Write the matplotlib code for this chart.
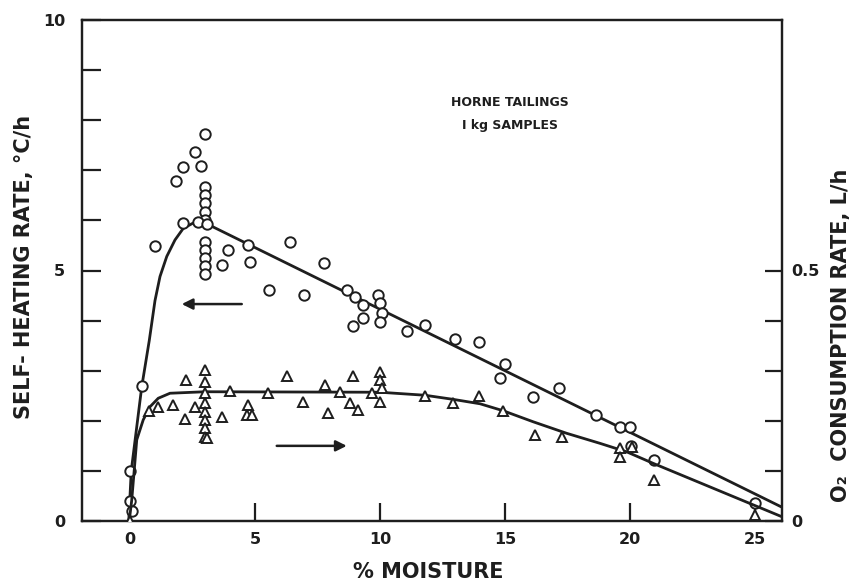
import matplotlib
matplotlib.use("Agg")
import matplotlib.pyplot as plt

# ---------------- data ----------------
# Self-heating rate (°C/h), open circles, left axis
heat_x = [0.1, 0.0, 0.0, 0.47, 1.0, 1.83, 2.13, 2.6, 2.83, 3.0,
          3.0, 3.0, 3.0, 3.0, 3.0, 2.13, 2.73, 3.1,
          3.0, 3.0, 3.0, 3.0, 3.0, 3.93, 3.67, 4.73, 4.8,
          5.56, 6.4, 6.97, 7.77, 8.67, 9.0, 9.33, 9.33, 8.93,
          9.93, 10.0, 10.07, 10.0, 11.1, 11.8, 13.0, 13.96,
          15.0, 14.8, 16.13, 17.17, 18.64, 19.6, 20.0, 20.05, 20.96, 25.0]
heat_y = [0.2, 0.4, 1.0, 2.69, 5.49, 6.79, 7.07, 7.36, 7.09, 7.72,
          6.67, 6.51, 6.34, 6.17, 6.01, 5.94, 5.97, 5.92,
          5.57, 5.41, 5.24, 5.08, 4.94, 5.41, 5.11, 5.50, 5.16,
          4.62, 5.56, 4.51, 5.14, 4.61, 4.48, 4.31, 4.05, 3.89,
          4.51, 4.35, 4.15, 3.98, 3.80, 3.91, 3.63, 3.58,
          3.13, 2.85, 2.48, 2.65, 2.12, 1.88, 1.88, 1.50, 1.22, 0.35]

# O2 consumption rate (L/h), open triangles, right axis
o2_x = [0.0, 0.77, 1.13, 1.73, 2.2, 2.24, 2.6,
        3.0, 3.0, 3.0, 3.0, 3.0, 3.0, 3.0, 3.0, 3.1,
        3.67, 4.0, 4.73, 4.67, 4.87, 5.53, 6.27, 6.93, 7.8, 7.93,
        8.4, 8.93, 8.8, 9.13, 9.67, 10.0, 10.0, 10.07, 10.0,
        11.8, 12.93, 13.96, 14.93, 16.2, 17.27, 19.6, 19.6, 20.07, 20.96, 25.0]
o2_y = [0.0, 0.220, 0.228, 0.232, 0.203, 0.281, 0.228,
        0.301, 0.278, 0.255, 0.236, 0.218, 0.202, 0.186, 0.168, 0.165,
        0.208, 0.260, 0.232, 0.212, 0.212, 0.255, 0.289, 0.238, 0.271, 0.216,
        0.258, 0.289, 0.235, 0.222, 0.255, 0.298, 0.281, 0.265, 0.238,
        0.250, 0.236, 0.250, 0.220, 0.172, 0.168, 0.145, 0.128, 0.148, 0.082, 0.012]

# fitted curves
heat_fit_x = [-0.05, 0.05, 0.47, 0.77, 1.0, 1.2, 1.47, 1.8, 2.13, 2.5, 2.85, 3.2, 26.1]
heat_fit_y = [0.0, 1.0, 2.68, 3.6, 4.4, 4.88, 5.28, 5.61, 5.84, 5.94, 5.96, 5.9, 0.27]
o2_fit_x = [-0.03, 0.07, 0.27, 0.53, 0.8, 1.13, 1.6, 3.0, 10.0, 11.8, 12.9, 14.0,
            14.93, 16.13, 17.47, 18.8, 19.87, 20.93, 26.1]
o2_fit_y = [0.0, 0.042, 0.162, 0.202, 0.228, 0.245, 0.255, 0.258, 0.257, 0.251, 0.243, 0.234,
            0.220, 0.198, 0.175, 0.155, 0.138, 0.115, 0.008]

x_ticks = [0, 5, 10, 15, 20, 25]
left_ticks = list(range(0, 11))
left_labels = ["0", "", "", "", "", "5", "", "", "", "", "10"]
right_ticks = [0, 0.1, 0.2, 0.3, 0.4, 0.5]
right_labels = ["0", "", "", "", "", "0.5"]

note_lines = ["HORNE TAILINGS", "I kg SAMPLES"]
heat_arrow = ((4.47, 4.33), (2.07, 4.33))   # tail, head (left-axis units)
o2_arrow = ((5.87, 0.15), (8.67, 0.15))     # tail, head (right-axis units)

# ---------------- drawing ----------------
plt.rcParams['font.family'] = ['DejaVu Sans']
ink = '#1e1e1e'

fig = plt.figure(figsize=(8.53, 5.84), dpi=100)
ax = fig.add_axes([82/853, 1 - 521/584, 700/853, 501/584])
ax2 = ax.twinx()

ax.set_xlim(-1.92, 26.08)
ax.set_ylim(0, 10)
ax2.set_ylim(0, 1)

ax.plot(heat_fit_x, heat_fit_y, color=ink, lw=2.0, zorder=2, solid_capstyle='butt')
ax2.plot(o2_fit_x, o2_fit_y, color=ink, lw=2.0, zorder=2, solid_capstyle='butt')

ax.plot(heat_x, heat_y, linestyle='none', marker='o', ms=7.5, mfc='white',
        mec=ink, mew=1.4, zorder=3)
ax2.plot(o2_x, o2_y, linestyle='none', marker='^', ms=7.5, mfc='white',
         mec=ink, mew=1.4, zorder=3)

for a in (ax, ax2):
    for s in a.spines.values():
        s.set_linewidth(1.6)
        s.set_color(ink)

ax.set_xticks(x_ticks)
ax.set_xticklabels([str(t) for t in x_ticks])
ax.set_yticks(left_ticks)
ax.set_yticklabels(left_labels)
ax2.set_yticks(right_ticks)
ax2.set_yticklabels(right_labels)

ax.tick_params(axis='x', direction='in', length=13, width=1.6, color=ink,
               labelsize=11.5, pad=8, labelcolor=ink)
ax.tick_params(axis='y', direction='in', length=14, width=1.6, color=ink,
               labelsize=11.5, pad=12, labelcolor=ink)
ax2.tick_params(axis='y', direction='in', length=12, width=1.6, color=ink,
                labelsize=11.5, pad=7, labelcolor=ink)
for lab in ax.get_xticklabels() + ax.get_yticklabels() + ax2.get_yticklabels():
    lab.set_fontweight('bold')

fig.text(24/853, 1 - 267/584, "SELF- HEATING RATE, °C/h", rotation=90,
         ha='center', va='center', fontsize=15, fontweight='bold', color=ink)
fig.text(841/853, 1 - 335/584, "O₂  CONSUMPTION RATE, L/h", rotation=90,
         ha='center', va='center', fontsize=15, fontweight='bold', color=ink)
fig.text(428/853, 1 - 572/584, "% MOISTURE", ha='center', va='center',
         fontsize=15, fontweight='bold', color=ink)

ax.text(0.611, 0.835, note_lines[0], transform=ax.transAxes, ha='center',
        va='center', fontsize=9, fontweight='bold', color=ink)
ax.text(0.611, 0.79, note_lines[1], transform=ax.transAxes, ha='center',
        va='center', fontsize=9, fontweight='bold', color=ink)

ax.annotate('', xy=heat_arrow[1], xytext=heat_arrow[0],
            arrowprops=dict(arrowstyle='-|>', lw=1.8, color=ink,
                            mutation_scale=16, shrinkA=0, shrinkB=0))
ax2.annotate('', xy=o2_arrow[1], xytext=o2_arrow[0],
             arrowprops=dict(arrowstyle='-|>', lw=1.8, color=ink,
                             mutation_scale=16, shrinkA=0, shrinkB=0))

fig.savefig("out.png", dpi=100)
